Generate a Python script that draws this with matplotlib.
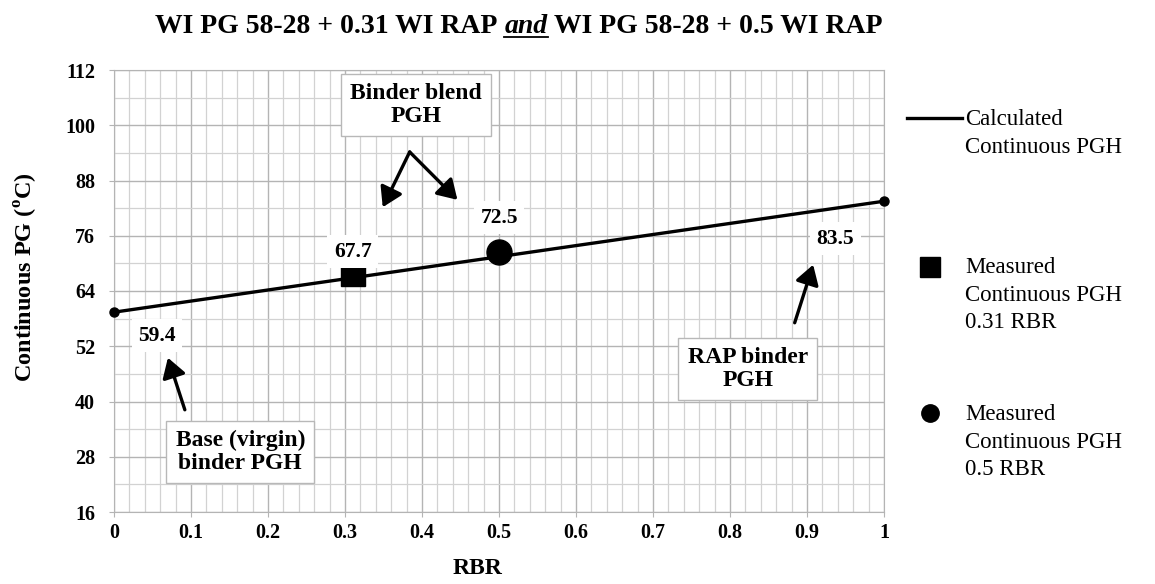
import matplotlib
matplotlib.use('Agg')
import matplotlib.pyplot as plt
from matplotlib.lines import Line2D
from matplotlib.ticker import FixedLocator, FuncFormatter, MultipleLocator

plt.rcParams['font.family'] = ['Liberation Serif', 'DejaVu Serif']
plt.rcParams['mathtext.fontset'] = 'custom'
plt.rcParams['mathtext.rm'] = 'Liberation Serif:bold'

# calculated continuous high PG vs RAP binder ratio
rbr_line = [0.0, 1.0]
pgh_line = [59.4, 83.5]
# measured blends
rbr_meas = [0.31, 0.5]
pgh_meas = [67.7, 72.5]
meas_markers = ['s', 'o']
meas_labels = ['Measured\nContinuous PGH\n0.31 RBR',
               'Measured\nContinuous PGH\n0.5 RBR']
line_label = 'Calculated\nContinuous PGH'
y_ticks = [16, 28, 40, 52, 64, 76, 88, 100, 112]

W, H = 1155, 584
fig = plt.figure(figsize=(W / 100, H / 100), dpi=100)
ax = fig.add_axes([114 / W, 1 - 512 / H, 770 / W, 442 / H])

ax.set_xlim(0, 1)
ax.set_ylim(y_ticks[0], y_ticks[-1])
ax.xaxis.set_major_locator(MultipleLocator(0.1))
ax.xaxis.set_minor_locator(MultipleLocator(0.02))
ax.yaxis.set_major_locator(FixedLocator(y_ticks))
ax.yaxis.set_minor_locator(FixedLocator([v + 6 for v in y_ticks[:-1]]))
ax.xaxis.set_major_formatter(FuncFormatter(lambda v, p: f'{v:g}'))
ax.grid(which='major', color='#b4b4b4', lw=1.0)
ax.grid(which='minor', color='#d2d2d2', lw=0.9)
ax.set_axisbelow(True)
for s in ax.spines.values():
    s.set_color('#b4b4b4')
ax.tick_params(which='minor', length=0)
ax.tick_params(which='major', length=3.6, color='#b4b4b4', labelsize=14.5)
ax.tick_params(axis='y', pad=10)
ax.tick_params(axis='x', pad=4)
for lab in ax.get_xticklabels() + ax.get_yticklabels():
    lab.set_fontweight('bold')

# calculated line with end points
ax.plot(rbr_line, pgh_line, color='black', lw=2.4, marker='o', ms=6.5,
        clip_on=False, zorder=3)
for m, x, y in zip(meas_markers, rbr_meas, pgh_meas):
    ax.plot([x], [y], marker=m, ms=17 if m == 's' else 18, color='black',
            ls='none', zorder=4)

lbl_box = dict(boxstyle='square,pad=0.3', fc='white', ec='none')
lbl_kw = dict(textcoords='offset points', ha='center', va='center',
              fontsize=15.5, fontweight='bold', bbox=lbl_box, zorder=5)
ax.annotate(f'{pgh_line[0]:.1f}', (rbr_line[0], pgh_line[0]), xytext=(31, -17), **lbl_kw)
ax.annotate(f'{pgh_meas[0]:.1f}', (rbr_meas[0], pgh_meas[0]), xytext=(0, 16), **lbl_kw)
ax.annotate(f'{pgh_meas[1]:.1f}', (rbr_meas[1], pgh_meas[1]), xytext=(0, 24.5), **lbl_kw)
ax.annotate(f'{pgh_line[1]:.1f}', (rbr_line[1], pgh_line[1]), xytext=(-35, -27), **lbl_kw)

# callout boxes
call_box = dict(boxstyle='square,pad=0.4', fc='white', ec='#b8b8b8', lw=1)
call_kw = dict(ha='center', va='center', fontsize=17, fontweight='bold',
               bbox=call_box, linespacing=1.1, zorder=5)
ax.text(0.392, 104.4, 'Binder blend\nPGH', **call_kw)
ax.text(0.164, 29.0, 'Base (virgin)\nbinder PGH', **call_kw)
ax.text(0.823, 47.1, 'RAP binder\nPGH', **call_kw)

arr = dict(arrowstyle='-|>,head_length=0.65,head_width=0.4', color='black',
           lw=2.4, mutation_scale=18, shrinkA=0, shrinkB=0)
for tail, head in [((0.384, 94.2), (0.349, 82.2)),
                   ((0.384, 94.2), (0.446, 83.8)),
                   ((0.092, 38.2), (0.070, 49.5)),
                   ((0.884, 57.1), (0.908, 69.7))]:
    ax.annotate('', xy=head, xytext=tail, arrowprops=arr, zorder=6)


# legend drawn by hand so keys line up with the first text line
def fx(px):
    return px / W


def fy(py):
    return 1 - py / H


fig.add_artist(Line2D([fx(907), fx(962)], [fy(118), fy(118)], color='black',
                      lw=2.4, transform=fig.transFigure))
fig.add_artist(Line2D([fx(930)], [fy(267)], marker='s', ms=14, color='black',
                      ls='none', transform=fig.transFigure))
fig.add_artist(Line2D([fx(930)], [fy(413)], marker='o', ms=12.5, color='black',
                      ls='none', transform=fig.transFigure))
leg_kw = dict(ha='left', va='top', fontsize=16.5, linespacing=1.42)
fig.text(fx(965), fy(109), line_label, **leg_kw)
fig.text(fx(965), fy(257), meas_labels[0], **leg_kw)
fig.text(fx(965), fy(404), meas_labels[1], **leg_kw)

# axis titles
fig.text(fx(26), fy(277), r'Continuous PG ($^{\mathrm{o}}$C)', rotation=90,
         ha='center', va='center', fontsize=17.5, fontweight='bold')
fig.text(fx(478), fy(568), 'RBR', ha='center', va='center', fontsize=17,
         fontweight='bold')

# title with underlined italic "and"
fig.canvas.draw()
r = fig.canvas.get_renderer()
tsize = 20
parts = [('WI PG 58-28 + 0.31 WI RAP', 'normal'), ('and', 'italic'),
         ('WI PG 58-28 + 0.5 WI RAP', 'normal')]
gap = 0.25 * tsize * 100 / 72
texts = []
for s, style in parts:
    t = fig.text(0, fy(33), s, ha='left', va='baseline', fontsize=tsize,
                 fontweight='bold', fontstyle=style)
    texts.append(t)
widths = [t.get_window_extent(r).width for t in texts]
total = sum(widths) + gap * (len(widths) - 1)
x = 519 - total / 2
for t, w in zip(texts, widths):
    t.set_x(fx(x))
    if t.get_fontstyle() == 'italic':
        fig.add_artist(Line2D([fx(x), fx(x + w)], [fy(37), fy(37)],
                              color='black', lw=1.3, transform=fig.transFigure))
    x += w + gap

fig.savefig('out.png', dpi=100)
